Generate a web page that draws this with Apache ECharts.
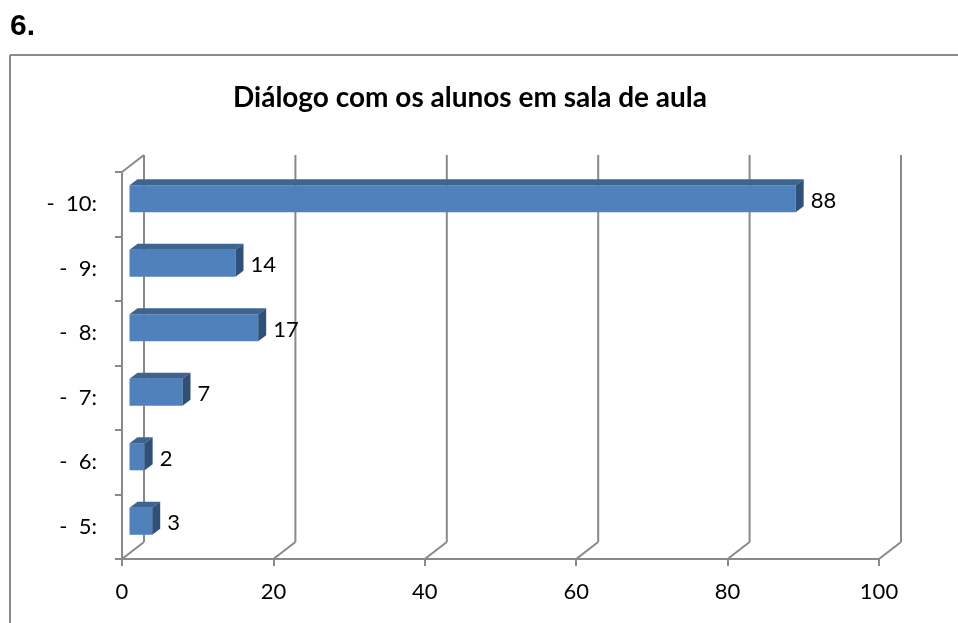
<!DOCTYPE html>
<html>
<head>
<meta charset="utf-8">
<script src="https://cdn.jsdelivr.net/npm/echarts@6/dist/echarts.min.js"></script>
<style>
  html, body { margin: 0; padding: 0; background: #fff; }
  #chart { width: 958px; height: 623px; }
</style>
</head>
<body>
<div id="chart"></div>
<script>
// Ratings (categories bottom to top) and the number of answers for each
const categories = ['-  5:', '-  6:', '-  7:', '-  8:', '-  9:', '-  10:'];
const counts = [3, 2, 7, 17, 14, 88];
const xTicks = [0, 20, 40, 60, 80, 100];

const FONT = 'Lato, "Open Sans", sans-serif';
const GRID_COLOR = '#898989';

// depth of the 3D box (back wall offset) and of each bar
const WALL_DX = 22, WALL_DY = -17;
const BAR_SHIFT_X = 7.5, BAR_SHIFT_Y = -5.5;
const BAR_DX = 8, BAR_DY = -6;

const chart = echarts.init(document.getElementById('chart'));

function renderWall(params, api) {
  const v = api.value(0);
  const cs = params.coordSys;
  const top = cs.y, bottom = cs.y + cs.height;
  const x = api.coord([v, 0])[0];
  const style = { stroke: GRID_COLOR, lineWidth: 2 };
  const children = [
    { type: 'line', shape: { x1: x, y1: bottom, x2: x + WALL_DX, y2: bottom + WALL_DY }, style },
    { type: 'line', shape: { x1: x + WALL_DX, y1: bottom + WALL_DY, x2: x + WALL_DX, y2: top + WALL_DY }, style }
  ];
  if (v === 0) {
    children.push({ type: 'line', shape: { x1: x, y1: top, x2: x + WALL_DX, y2: top + WALL_DY }, style });
  }
  return { type: 'group', children };
}

function renderBar(params, api) {
  const idx = api.value(0);
  const val = api.value(1);
  const p0 = api.coord([0, idx]);
  const p1 = api.coord([val, idx]);
  const band = api.size([0, 1])[1];
  const h = band * 0.42;
  const x0 = p0[0] + BAR_SHIFT_X;
  const x1 = p1[0] + BAR_SHIFT_X;
  const yc = p0[1] + BAR_SHIFT_Y;
  const yt = yc - h / 2, yb = yc + h / 2;
  return {
    type: 'group',
    children: [
      { type: 'rect', shape: { x: x0, y: yt, width: x1 - x0, height: h },
        style: { fill: '#4f81bd' } },
      { type: 'polygon', shape: { points: [[x0, yt], [x0 + BAR_DX, yt + BAR_DY], [x1 + BAR_DX, yt + BAR_DY], [x1, yt]] },
        style: { fill: '#3d6590' } },
      { type: 'polygon', shape: { points: [[x1, yt], [x1 + BAR_DX, yt + BAR_DY], [x1 + BAR_DX, yb + BAR_DY], [x1, yb]] },
        style: { fill: '#2f5179' } },
      { type: 'text', x: x1 + BAR_DX + 7, y: yc + 2,
        style: { text: String(val), fill: '#000', font: '22px ' + FONT, align: 'left', verticalAlign: 'middle' } }
    ]
  };
}

chart.setOption({
  animation: false,
  backgroundColor: '#ffffff',
  graphic: [
    { type: 'text', x: 10, y: 27, style: { text: '6.', font: 'bold 30px "Liberation Sans", Arial, sans-serif', fill: '#000', verticalAlign: 'middle' } },
    { type: 'line', shape: { x1: 10, y1: 55, x2: 958, y2: 55 }, style: { stroke: '#8a8a8a', lineWidth: 2 } },
    { type: 'line', shape: { x1: 10, y1: 55, x2: 10, y2: 623 }, style: { stroke: '#8a8a8a', lineWidth: 2 } },
    { type: 'text', x: 470, y: 98, style: { text: 'Diálogo com os alunos em sala de aula', font: 'bold 28px ' + FONT, fill: '#000', align: 'center', verticalAlign: 'middle' } }
  ],
  grid: { left: 122, right: 79, top: 172, bottom: 64 },
  xAxis: {
    type: 'value', min: 0, max: 100, interval: 20,
    axisLine: { show: true, lineStyle: { color: GRID_COLOR, width: 2 } },
    axisTick: { show: true, length: 7, lineStyle: { color: GRID_COLOR, width: 2 } },
    splitLine: { show: false },
    axisLabel: { margin: 22, color: '#000', fontSize: 22, fontFamily: FONT }
  },
  yAxis: {
    type: 'category', data: categories,
    axisLine: { show: true, lineStyle: { color: GRID_COLOR, width: 2 } },
    axisTick: { show: true, length: 7, lineStyle: { color: GRID_COLOR, width: 2 } },
    splitLine: { show: false },
    axisLabel: { margin: 25, color: '#000', fontSize: 22, fontFamily: FONT }
  },
  series: [
    {
      type: 'custom', renderItem: renderWall, z: 1,
      data: xTicks.map(v => [v]), encode: { x: 0 }, silent: true
    },
    {
      type: 'custom', renderItem: renderBar, z: 2,
      data: counts.map((c, i) => [i, c]), encode: { y: 0, x: 1 }
    }
  ]
});
</script>
</body>
</html>
